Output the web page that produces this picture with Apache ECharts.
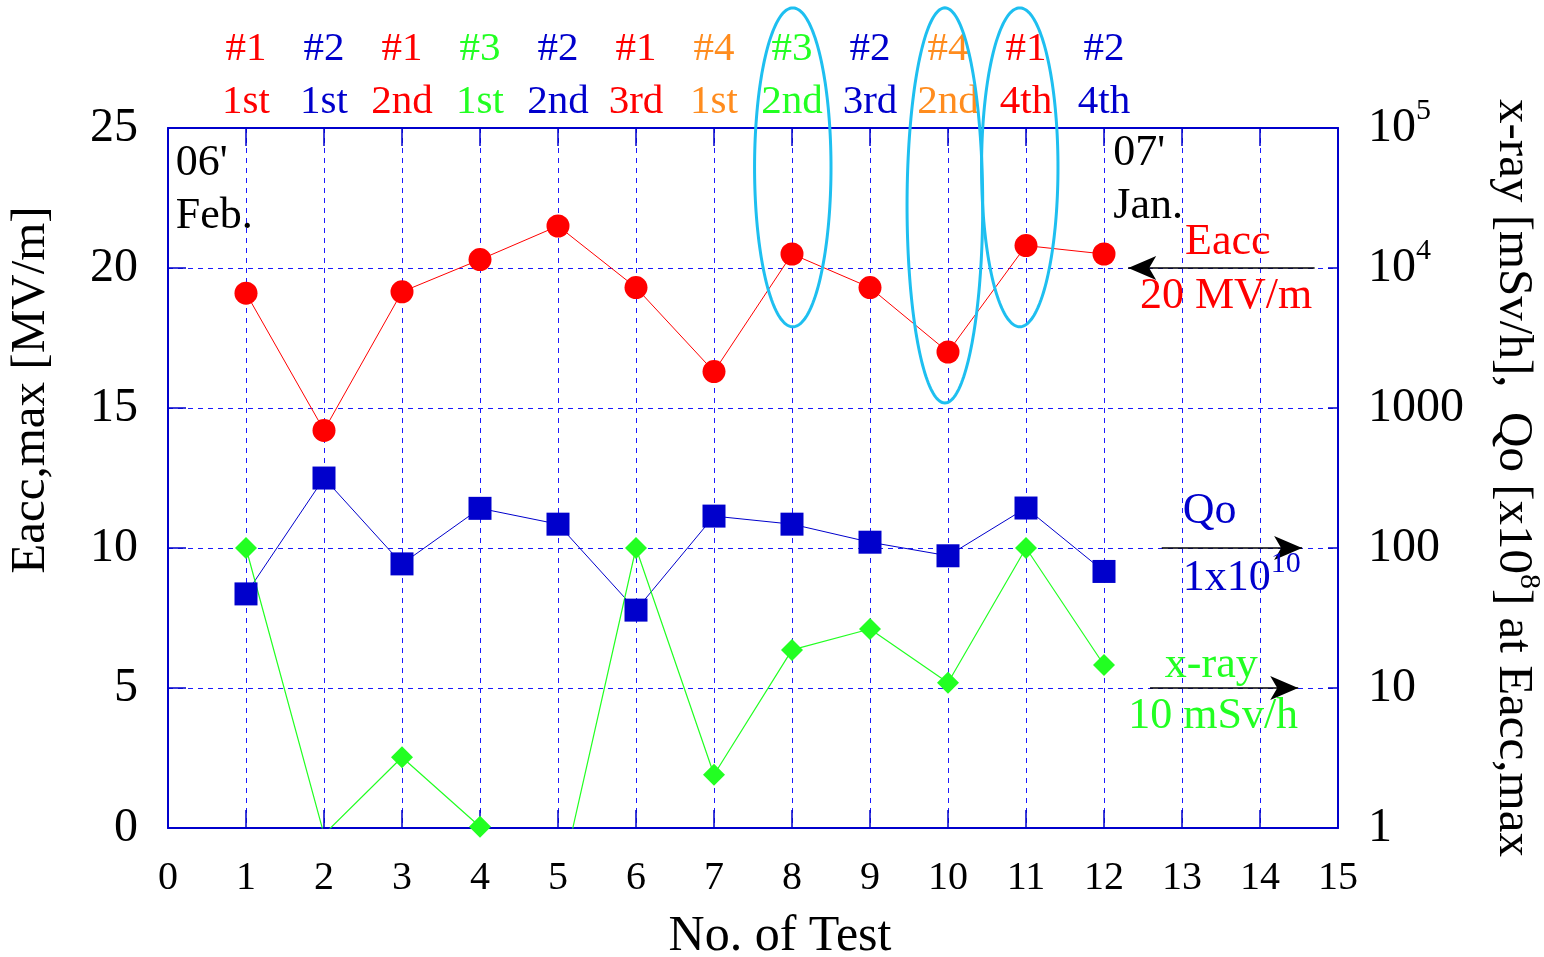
<!DOCTYPE html>
<html><head><meta charset="utf-8">
<script src="https://cdn.jsdelivr.net/npm/echarts@6/dist/echarts.min.js"></script>
<style>html,body{margin:0;padding:0;background:#fff}#c{width:1544px;height:957px}</style>
</head><body><div id="c"></div>
<script>
// ---- data ----
const tests  = [1,2,3,4,5,6,7,8,9,10,11,12];
const eacc   = [19.1,14.2,19.15,20.3,21.5,19.3,16.3,20.5,19.3,17.0,20.8,20.5];   // MV/m (left axis)
const qo     = [47,316,77,192,148,36,169,148,110,88,193,68];                      // x1e8 (right log axis)
const xray   = [100,0.9,3.2,1.02,0.34,100,2.4,18.7,26.4,10.9,100,14.6];           // mSv/h (right log axis)
const cavity = ['#1','#2','#1','#3','#2','#1','#4','#3','#2','#4','#1','#2'];
const round  = ['1st','1st','2nd','1st','2nd','3rd','1st','2nd','3rd','2nd','4th','4th'];
const xTicks = [0,1,2,3,4,5,6,7,8,9,10,11,12,13,14,15];
const leftTicks = [0,5,10,15,20,25];
const rightTicks = [1,10,100,1000,10000,100000];

const FONT = 'Liberation Serif';
const BLUE = '#0000cc', RED = '#ff0000', GREEN = '#22ff22', ORANGE = '#ff8c1e', CYAN = '#1ebff0';
const GRIDBLUE = '#1a1aff';
const cavColor = {'#1':RED,'#2':BLUE,'#3':GREEN,'#4':ORANGE};

const chart = echarts.init(document.getElementById('c'));
const pair = (xs, ys) => xs.map((x,i)=>[x, ys[i]]);

const topRich = {};
Object.keys(cavColor).forEach(k=>{
  topRich['c'+k.slice(1)] = {color:cavColor[k], fontSize:41, lineHeight:53, fontFamily:FONT};
});

const option = {
  animation:false,
  backgroundColor:'#fff',
  grid:{left:168,right:206,top:128,bottom:129,containLabel:false,outerBoundsMode:'none'},
  xAxis:[{
    type:'value',min:xTicks[0],max:xTicks[xTicks.length-1],interval:1,position:'bottom',
    name:'No. of Test',nameLocation:'middle',nameGap:84,
    nameTextStyle:{fontFamily:FONT,fontSize:50,color:'#000',padding:[0,0,0,54]},
    axisLine:{show:true,onZero:false,lineStyle:{color:BLUE,width:2}},
    axisTick:{show:true,inside:true,length:18,lineStyle:{color:BLUE,width:1.5}},
    axisLabel:{fontFamily:FONT,fontSize:40,color:'#000',margin:30},
    splitLine:{show:true,lineStyle:{color:GRIDBLUE,width:1,type:[5,5]}}
  },{
    type:'value',min:xTicks[0],max:xTicks[xTicks.length-1],interval:1,position:'top',
    axisLine:{show:true,onZero:false,lineStyle:{color:BLUE,width:2}},
    axisTick:{show:true,inside:true,length:18,lineStyle:{color:BLUE,width:1.5}},
    axisLabel:{margin:-1,formatter:function(v){
      const i = tests.indexOf(v); if(i<0) return '';
      const k = 'c'+cavity[i].slice(1);
      return '{'+k+'|'+cavity[i]+'}\n{'+k+'|'+round[i]+'}';
    },rich:topRich},
    splitLine:{show:false}
  }],
  yAxis:[{
    type:'value',min:leftTicks[0],max:leftTicks[leftTicks.length-1],interval:5,position:'left',
    name:'Eacc,max [MV/m]',nameLocation:'middle',nameGap:112,nameRotate:90,
    nameTextStyle:{fontFamily:FONT,fontSize:49,color:'#000',padding:[0,0,0,176]},
    axisLine:{show:true,onZero:false,lineStyle:{color:BLUE,width:2}},
    axisTick:{show:true,inside:true,length:18,lineStyle:{color:BLUE,width:1.5}},
    axisLabel:{fontFamily:FONT,fontSize:48,color:'#000',margin:30},
    splitLine:{show:true,lineStyle:{color:GRIDBLUE,width:1,type:[5,5]}}
  },{
    type:'log',logBase:10,min:rightTicks[0],max:rightTicks[rightTicks.length-1],position:'right',
    name:'{b|x-ray [mSv/h],  Qo [x10}{s|8}{b|] at Eacc,max}',nameLocation:'middle',nameGap:144,nameRotate:-90,
    nameTextStyle:{fontFamily:FONT,fontSize:49,color:'#000',rich:{
      b:{fontFamily:FONT,fontSize:49,lineHeight:62,color:'#000'},
      s:{fontFamily:FONT,fontSize:30,lineHeight:26,verticalAlign:'top',color:'#000'}}},
    axisLine:{show:true,onZero:false,lineStyle:{color:BLUE,width:2}},
    axisTick:{show:true,inside:true,length:10,lineStyle:{color:BLUE,width:1.5}},
    axisLabel:{fontFamily:FONT,fontSize:48,color:'#000',margin:30,
      formatter:function(v){
        if(v>=10000){return '{b|10}{s|'+Math.round(Math.log10(v))+'}';}
        return '{b|'+v+'}';
      },
      rich:{b:{fontFamily:FONT,fontSize:48,lineHeight:64,color:'#000'},
            s:{fontFamily:FONT,fontSize:30,lineHeight:26,color:'#000',verticalAlign:'top'}}
    },
    splitLine:{show:false}
  }],
  series:[{
    name:'Eacc',type:'line',xAxisIndex:0,yAxisIndex:0,data:pair(tests,eacc),
    symbol:'circle',symbolSize:23,itemStyle:{color:RED},lineStyle:{color:RED,width:1},
    markLine:{silent:true,symbol:['none','arrow'],symbolSize:[18,28],label:{show:false},
      lineStyle:{color:'#000',width:1.5,type:'solid'},
      data:[
        [{coord:[14.7,20]},{coord:[12.31,20]}],
        [{coord:[12.74,10]},{coord:[14.54,10]}],
        [{coord:[12.59,5]},{coord:[14.49,5]}]
      ]}
  },{
    name:'Qo',type:'line',xAxisIndex:0,yAxisIndex:1,data:pair(tests,qo),
    symbol:'rect',symbolSize:23,itemStyle:{color:BLUE},lineStyle:{color:BLUE,width:1}
  },{
    name:'x-ray',type:'line',xAxisIndex:0,yAxisIndex:1,data:pair(tests,xray),
    symbol:'diamond',symbolSize:22,itemStyle:{color:GREEN},lineStyle:{color:GREEN,width:1.2},clip:true
  }]
};
chart.setOption(option);

// ---- annotations (placed in data coordinates of the left axis) ----
function px(x,y){return chart.convertToPixel({xAxisIndex:0,yAxisIndex:0},[x,y]);}
const g = [];
function txt(x,y,text,color,rich){
  const p = px(x,y);
  g.push({type:'text',x:p[0],y:p[1],silent:true,z:10,
    style:{text:text,fill:color,font:'44px "'+FONT+'"',verticalAlign:'middle',align:'left',rich:rich}});
}
txt(0.10,23.75,"06'",'#000');
txt(0.10,21.85,'Feb.','#000');
txt(12.12,24.1,"07'",'#000');
txt(12.12,22.2,'Jan.','#000');
txt(13.04,20.9,'Eacc',RED);
txt(12.46,19.0,'20 MV/m',RED);
txt(13.01,11.29,'Qo',BLUE);
txt(13.01,8.9,'{b|1x10}{s|10}',BLUE,{b:{fill:BLUE,fontSize:44,lineHeight:60,fontFamily:FONT},s:{fill:BLUE,fontSize:30,lineHeight:26,fontFamily:FONT,verticalAlign:'top'}});
txt(12.78,5.82,'x-ray',GREEN);
txt(12.31,4.0,'10 mSv/h',GREEN);

// ellipses highlighting tests
const ellipses = [
  {x:8.01, top:29.29, bottom:17.9, hw:0.49},
  {x:9.96, top:29.29, bottom:15.18, hw:0.485},
  {x:10.92, top:29.29, bottom:17.9, hw:0.49}
];
ellipses.forEach(e=>{
  const c = px(e.x,(e.top+e.bottom)/2);
  const r = px(e.x+e.hw,e.top);
  const rx = r[0]-c[0], ry = c[1]-r[1];
  const pts = [];
  for(let i=0;i<180;i++){const a=i/180*Math.PI*2; pts.push([c[0]+rx*Math.cos(a), c[1]+ry*Math.sin(a)]);}
  g.push({type:'polygon',silent:true,z:11,shape:{points:pts},style:{fill:'none',stroke:CYAN,lineWidth:3}});
});
chart.setOption({graphic:g});
</script>
</body></html>
